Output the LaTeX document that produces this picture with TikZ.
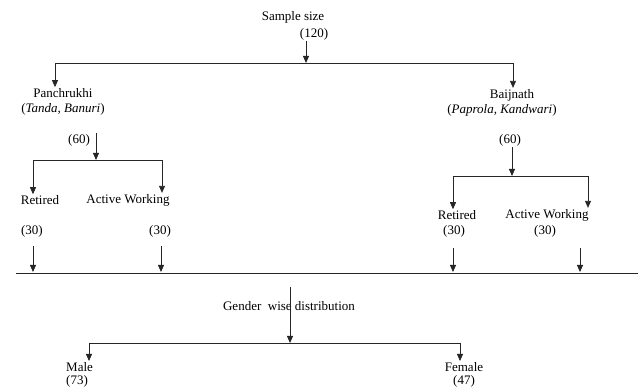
\documentclass[tikz,border=0pt]{standalone}
\usepackage{fontspec}
\setmainfont{Liberation Serif}
\usetikzlibrary{arrows.meta,positioning,calc}

\begin{document}
\begin{tikzpicture}[
    x=1pt, y=-1pt,
    every node/.style={font=\fontsize{13}{15.5}\selectfont, text=black, inner sep=1pt, align=center},
    line/.style={draw=black!85, line width=0.8pt},
    arrow/.style={line, -{Triangle[width=6pt,length=7pt]}}
]
\useasboundingbox (0,0) rectangle (638,387);

% sample
\node (sample) at (293,17) {Sample size};
\node (total) at (314,34) {(120)};
\coordinate (split0) at (306,63);
\coordinate (l0) at (55,63);
\coordinate (r0) at (513,63);
\draw[arrow] (total.south -| split0) -- (split0);
\draw[line] (l0) -- (r0);

% blocks
\node (panch) at (63,102) {Panchrukhi\\(\textit{Tanda, Banuri})};
\node (bai) at (512,95) {Baijnath};
\node (baisub) at (502,110) {(\textit{Paprola, Kandwari})};
\draw[arrow] (l0) -- (l0 |- panch.north);
\draw[arrow] (r0) -- (r0 |- bai.north);

% Panchrukhi split
\node (p60) at (79,140) {(60)};
\coordinate (split1) at (96,160);
\coordinate (l1) at (33,160);
\coordinate (r1) at (162,160);
\draw[arrow] (p60.north -| split1) -- (split1);
\draw[line] (l1) -- (r1);
\node (pret) at (40,200) {Retired};
\node (pact) at (128,200) {Active Working};
\draw[arrow] (l1) -- (l1 |- pret.north);
\draw[arrow] (r1) -- (r1 |- pact.north);
\node (pret30) at (32,231) {(30)};
\node (pact30) at (160,231) {(30)};

% Baijnath split
\node (b60) at (510,140) {(60)};
\coordinate (split2) at (512,176);
\coordinate (l2) at (453,176);
\coordinate (r2) at (588,176);
\draw[arrow] (b60.south -| split2) -- (split2);
\draw[line] (l2) -- (r2);
\node (bret) at (457,215) {Retired};
\node (bact) at (547,215) {Active Working};
\draw[arrow] (l2) -- (l2 |- bret.north);
\draw[arrow] (r2) -- (r2 |- bact.north);
\node (bret30) at (454,231) {(30)};
\node (bact30) at (545,231) {(30)};

% merge line
\coordinate (cl) at (16,273);
\coordinate (cr) at (638,273);
\draw[line] (cl) -- (cr);
\draw[arrow] ([yshift=-8pt]pret30.south -| 33,0) -- (33,272);
\draw[arrow] ([yshift=-8pt]pact30.south -| 161,0) -- (161,272);
\draw[arrow] ([yshift=-10pt]bret30.south -| 453,0) -- (453,272);
\draw[arrow] ([yshift=-10pt]bact30.south -| 580,0) -- (580,272);

% gender
\node (gender) at (289,306) {Gender\ \ wise distribution};
\coordinate (gtop) at (290,287);
\coordinate (split3) at (290,343);
\coordinate (l3) at (89,343);
\coordinate (r3) at (460,343);
\draw[arrow] (gtop) -- (split3);
\draw[line] (l3) -- (r3);
\node[anchor=north west, align=left] (male) at (65,361) {Male\\[-2.5pt](73)};
\node[anchor=north] (female) at (464,361) {Female\\[-2.5pt](47)};
\draw[arrow] (l3) -- (l3 |- male.north);
\draw[arrow] (r3) -- (r3 |- female.north);
\end{tikzpicture}
\end{document}
